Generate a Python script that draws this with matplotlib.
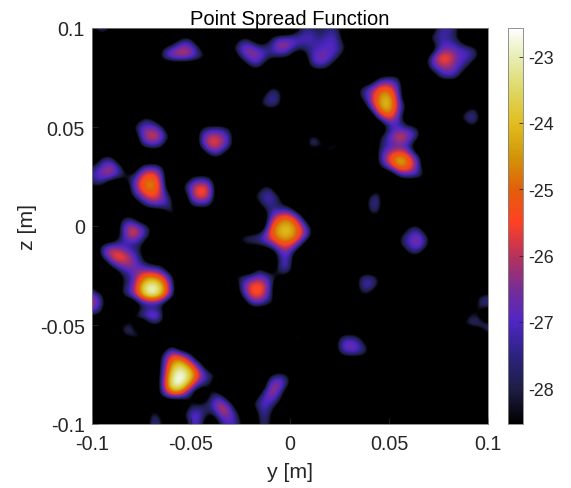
import numpy as np
from matplotlib import pyplot as plt
from matplotlib.colors import LinearSegmentedColormap

plt.rcParams['font.family'] = ['Liberation Sans', 'DejaVu Sans']

# level in dB, cell size 5 mm
# each run is (row from top, first column, values), anything not listed is background
background = -31.5
n_cells = 41
y_range = [-0.1, 0.1]
z_range = [-0.1, 0.1]
y_ticks = [-0.1, -0.05, 0, 0.05, 0.1]
z_ticks = [-0.1, -0.05, 0, 0.05, 0.1]
tick_labels = ['-0.1', '-0.05', '0', '0.05', '0.1']
bar_ticks = [-28, -27, -26, -25, -24, -23]
level_min = -28.54
level_max = -22.57

top_left = [(0, 0, [-28.3, -27.2, -28.0]), (1, 1, [-28.4]), (0, 8, [-28.0]),
            (3, 12, [-28.1, -28.2]), (8, 1, [-28.0])]
top_mid = [(1, 9, [-28.2, -28.0]),
           (2, 7, [-28.6, -26.8, -26.0, -26.2, -28.2]),
           (3, 7, [-27.4, -26.2, -25.9, -26.3, -27.6]),
           (1, 15, [-28.0, -28.4]),
           (2, 14, [-28.4, -26.6, -26.2, -27.0, -28.0]),
           (3, 15, [-27.6, -26.2, -26.5, -27.8]),
           (4, 16, [-28.0, -27.6])]
top_chain = [(0, 21, [-28.2, -27.4, -28.4, -27.4, -28.0]),
             (1, 18, [-28.0, -26.8, -26.6, -27.0, -26.8, -27.6, -26.9, -27.3]),
             (2, 18, [-27.6, -25.6, -26.6, -27.6, -27.6, -27.1, -26.8, -27.2, -28.3]),
             (3, 19, [-28.1, -28.4]),
             (3, 22, [-27.2, -26.2, -26.7, -27.8]),
             (4, 22, [-28.1, -27.1, -28.1]),
             (6, 18, [-27.8, -28.4]),
             (7, 17, [-28.4, -27.0, -27.4]),
             (8, 17, [-28.3, -27.5, -28.2])]
blob_g = [(9, 5, [-28.4, -28.4]),
          (10, 4, [-28.1, -26.8, -26.5, -27.1]),
          (11, 5, [-26.5, -25.3, -26.1, -28.2]),
          (12, 5, [-28.1, -27.3, -27.5])]
blob_h = [(10, 11, [-28.3, -27.8, -27.8, -28.4]),
          (11, 11, [-27.0, -25.5, -25.8, -27.3]),
          (12, 11, [-27.5, -25.4, -26.0, -27.4]),
          (13, 12, [-28.1, -28.0])]
blob_i = [(13, 1, [-28.1, -27.8]),
          (14, 0, [-28.1, -26.6, -25.9, -27.6]),
          (15, 0, [-27.3, -26.3, -26.2, -27.7]),
          (16, 0, [-28.3, -28.1])]
blob_j = [(14, 5, [-27.4, -26.8, -27.4]),
          (15, 4, [-28.0, -25.5, -24.8, -26.1]),
          (16, 4, [-27.4, -24.9, -24.3, -25.6]),
          (17, 4, [-28.2, -26.4, -25.1, -26.1, -28.1]),
          (18, 5, [-28.6, -27.2, -26.9, -27.4]),
          (19, 8, [-27.8, -28.0])]
blob_k = [(15, 10, [-28.3, -28.0, -28.3]),
          (16, 9, [-28.2, -26.4, -25.0, -26.0]),
          (17, 10, [-26.3, -25.1, -26.1]),
          (18, 10, [-28.1, -27.6, -28.0])]
blob_l = [(16, 17, [-28.3, -27.6]),
          (17, 16, [-28.2, -27.6, -26.7, -27.8]),
          (18, 17, [-28.1, -27.4]),
          (18, 0, [-27.8, -27.9])]
blob_m = [(19, 3, [-28.4, -28.4]),
          (20, 3, [-27.2, -25.6, -26.6, -28.4]),
          (21, 3, [-27.5, -25.3, -26.5, -28.4]),
          (22, 4, [-28.0, -28.2])]
blob_n = [(22, 1, [-27.3, -26.3, -27.3, -28.2]),
          (23, 1, [-27.1, -25.3, -24.9, -26.3, -28.1]),
          (24, 2, [-27.3, -26.4, -26.1, -27.3]),
          (25, 3, [-28.4, -27.4, -26.4])]
blob_o = [(24, 5, [-27.8, -27.8, -28.1]),
          (25, 5, [-25.5, -24.9, -25.6, -27.4]),
          (26, 3, [-28.4, -27.2, -23.9, -22.4, -23.6, -26.6]),
          (27, 3, [-27.8, -26.7, -24.1, -22.4, -23.7, -26.4]),
          (28, 5, [-28.6, -28.4, -28.6])]
blob_q = [(29, 4, [-28.4, -26.9, -25.7, -26.7]),
          (30, 6, [-28.3, -28.3])]
blob_p = [(26, 0, [-28.6]), (27, 0, [-26.4, -27.4]),
          (28, 0, [-25.5, -27.2]), (29, 0, [-28.0, -28.6])]
blob_r = [(30, 3, [-27.8, -28.0]), (31, 3, [-28.1, -27.2, -27.8]), (32, 5, [-28.3])]
blob_s = [(32, 8, [-28.0]),
          (33, 7, [-28.2, -25.4, -25.8, -27.8]),
          (34, 7, [-28.0, -24.3, -23.4, -25.2, -27.4]),
          (35, 7, [-27.8, -23.3, -22.3, -23.4, -26.0, -27.3, -28.4]),
          (36, 7, [-27.4, -22.7, -22.5, -24.8, -27.4, -28.4]),
          (37, 7, [-27.6, -24.8, -25.2, -28.4])]
blob_t = [(37, 12, [-28.0, -27.6]),
          (38, 12, [-27.2, -25.4, -27.0]),
          (39, 12, [-28.8, -26.0, -26.2, -28.5]),
          (40, 13, [-27.8, -26.9, -27.8])]
blob_u = [(38, 10, [-28.2, -28.3]), (39, 9, [-28.6, -26.6, -26.8]), (40, 10, [-26.8, -27.2]),
          (38, 6, [-28.6]), (39, 6, [-27.7, -28.2]), (40, 6, [-27.0, -27.7])]
blob_w = [(35, 18, [-28.4, -27.3, -28.4]),
          (36, 18, [-26.0, -26.1, -28.0]),
          (37, 17, [-27.8, -25.9, -27.0]),
          (38, 16, [-28.4, -26.8, -27.1, -28.7]),
          (39, 17, [-27.2, -27.7]),
          (40, 17, [-27.4, -28.0])]
blob_y = [(18, 19, [-28.4, -28.4]),
          (19, 18, [-27.2, -25.3, -25.1, -27.1]),
          (20, 18, [-25.4, -24.1, -23.9, -25.3, -27.8]),
          (21, 15, [-27.8, -27.4, -27.0, -25.3, -24.0, -23.9, -25.2, -27.2]),
          (22, 15, [-28.5, -28.3, -28.2, -27.2, -25.7, -25.6, -27.3]),
          (23, 19, [-27.1, -27.1]),
          (24, 19, [-26.8, -26.9]),
          (25, 19, [-28.3, -28.3])]
blob_x = [(24, 17, [-28.4]),
          (25, 15, [-28.1, -27.6, -26.7, -27.6]),
          (26, 15, [-27.4, -25.3, -25.0, -26.8]),
          (27, 15, [-28.3, -25.4, -25.2, -27.1]),
          (28, 16, [-27.6, -27.4, -28.6])]
small_mid = [(23, 8, [-28.0]), (23, 13, [-28.3]), (24, 13, [-27.7, -27.8]), (25, 14, [-28.2]),
             (28, 19, [-28.1, -27.8, -28.3]), (28, 23, [-28.2]),
             (31, 18, [-28.0]), (32, 18, [-27.5, -28.2]),
             (31, 20, [-27.6, -27.4]), (32, 21, [-28.0, -28.1])]
right_low = [(20, 32, [-28.2, -27.8]),
             (21, 31, [-28.3, -27.0, -26.2, -28.2]),
             (22, 31, [-28.3, -27.0, -26.2, -28.0]),
             (23, 32, [-28.4, -28.2]),
             (25, 27, [-27.8, -27.4, -28.4]),
             (26, 27, [-27.6, -26.7, -28.0]),
             (27, 27, [-28.4, -28.2]),
             (31, 25, [-28.3, -28.0, -28.4]),
             (32, 25, [-27.0, -25.9, -26.8, -28.6]),
             (33, 25, [-28.0, -27.4, -27.4, -28.2]),
             (27, 36, [-27.9]), (28, 36, [-27.8]),
             (27, 39, [-28.0, -27.6]), (28, 39, [-27.6, -27.2]),
             (29, 38, [-27.7, -28.4]),
             (30, 37, [-28.7, -27.7, -27.0, -27.3]),
             (31, 40, [-28.0]),
             (33, 39, [-27.9]), (34, 39, [-28.1])]
blob_cc = [(5, 29, [-28.1, -27.6, -27.6]),
           (6, 27, [-28.1, -26.9, -25.3, -25.2, -27.0]),
           (7, 27, [-28.1, -26.6, -24.5, -23.8, -26.6]),
           (8, 28, [-27.1, -24.4, -23.6, -26.3, -28.7]),
           (9, 29, [-26.2, -25.0, -26.8])]
blob_dd = [(10, 30, [-27.8, -27.2, -27.5, -28.2]),
           (11, 29, [-28.2, -26.8, -25.2, -26.0, -27.4]),
           (12, 29, [-28.0, -27.3, -27.0, -27.6])]
blob_ee = [(13, 29, [-27.6, -25.3, -24.0, -24.9, -27.4]),
           (14, 29, [-28.2, -26.1, -24.1, -24.8, -26.8]),
           (15, 31, [-27.8, -27.2, -27.4, -28.4])]
dots_mid = [(11, 22, [-27.3, -28.1]), (12, 22, [-27.3, -28.1]),
            (12, 24, [-27.8, -27.4]), (11, 25, [-28.3]), (13, 24, [-28.2]),
            (16, 29, [-28.4]), (17, 28, [-27.6, -27.3]), (18, 28, [-27.4, -27.2]),
            (19, 28, [-28.4, -28.3])]
blob_gg = [(0, 35, [-27.2, -27.1, -28.0]),
           (1, 34, [-27.6, -27.2, -27.4, -28.4]),
           (2, 35, [-27.4, -26.6, -27.0, -27.1, -28.2]),
           (3, 34, [-27.6, -25.1, -25.1, -26.8, -27.0, -27.8]),
           (4, 34, [-27.6, -26.6, -26.1, -27.0, -28.0]),
           (5, 35, [-27.8, -27.0, -27.6])]
right_top = [(8, 38, [-28.3, -28.4]),
             (9, 37, [-28.1, -26.9, -27.4]),
             (10, 38, [-28.4, -28.5]),
             (6, 40, [-28.2]), (7, 40, [-27.8])]

all_blobs = [top_left, top_mid, top_chain, blob_g, blob_h, blob_i, blob_j, blob_k, blob_l,
             blob_m, blob_n, blob_o, blob_q, blob_p, blob_r, blob_s, blob_t, blob_u, blob_w,
             blob_y, blob_x, small_mid, right_low, blob_cc, blob_dd, blob_ee, dots_mid,
             blob_gg, right_top]

# colormap stops
stop_levels = [-28.54, -28.0, -27.5, -27.0, -26.5, -26.0, -25.5, -25.0, -24.5, -24.0, -23.5, -23.0, -22.57]
stop_colors = ['#000000', '#1e1e46', '#2d2382', '#4f26c4', '#782d96', '#b9325a', '#ff4123',
               '#e15f0a', '#d2960a', '#e1be1e', '#ded764', '#e8eeb4', '#ffffff']

grid = np.full((n_cells, n_cells), background)
for blob in all_blobs:
    for row, col, values in blob:
        for k, v in enumerate(values):
            grid[row, col + k] = max(grid[row, col + k], v)

positions = [(v - level_min) / (level_max - level_min) for v in stop_levels]
cmap = LinearSegmentedColormap.from_list('psf', list(zip(positions, stop_colors)), N=256)

fig = plt.figure(figsize=(5.71, 4.89), dpi=100)
ax = fig.add_axes([92 / 571, 1 - 425 / 489, 396 / 571, 396 / 489])

half = 0.0025
im = ax.imshow(grid, cmap=cmap, vmin=level_min, vmax=level_max, interpolation='bicubic',
               extent=[y_range[0] - half, y_range[1] + half, z_range[0] - half, z_range[1] + half],
               origin='upper', aspect='auto')
ax.set_xlim(y_range)
ax.set_ylim(z_range)

dark = '#262626'
ax.set_xticks(y_ticks)
ax.set_xticklabels(tick_labels)
ax.set_yticks(z_ticks)
ax.set_yticklabels(tick_labels)
ax.tick_params(direction='in', length=4, width=0.6, labelsize=14.2, colors=dark)
ax.tick_params(axis='x', pad=7.5)
ax.tick_params(axis='y', pad=5)
ax.set_xlabel('y [m]', fontsize=15.3, color=dark)
ax.set_ylabel('z [m]', fontsize=15.3, color=dark)
ax.xaxis.set_label_coords(0.5, -0.096)
ax.yaxis.set_label_coords(-0.139, 0.5)
ax.set_title('Point Spread Function', fontsize=14.5, color='black', pad=3)
for s in ax.spines.values():
    s.set_linewidth(0.6)
    s.set_color('#808080')

cax = fig.add_axes([508 / 571, 1 - 425 / 489, 14.5 / 571, 396 / 489])
cb = fig.colorbar(im, cax=cax)
cb.set_ticks(bar_ticks)
cb.set_ticklabels([str(t) for t in bar_ticks])
cax.tick_params(direction='in', length=3, width=0.6, labelsize=12.8, colors=dark, pad=4)
cb.outline.set_linewidth(0.6)
cb.outline.set_edgecolor('#808080')

fig.savefig('out.png', dpi=100)
